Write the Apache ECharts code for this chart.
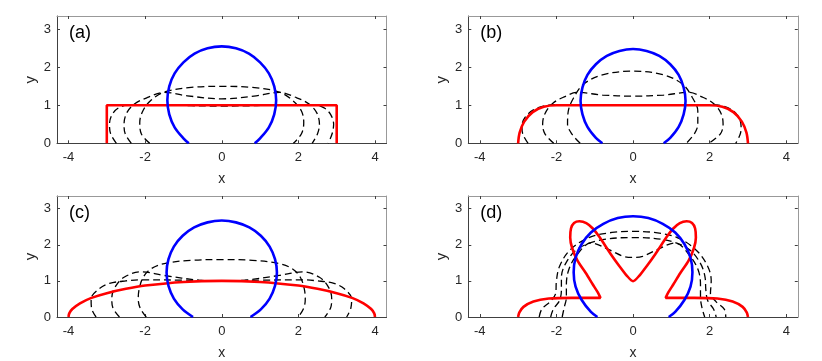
<!DOCTYPE html>
<html>
<head>
<meta charset="utf-8">
<script src="https://cdn.jsdelivr.net/npm/echarts@6/dist/echarts.min.js"></script>
<style>
  html, body { margin: 0; padding: 0; background: #fff; }
  #chart { width: 822px; height: 361px; }
</style>
</head>
<body>
<div id="chart"></div>
<script>
// tick labels and panel labels
var xTicks = [-4, -2, 0, 2, 4];
var yTicks = [0, 1, 2, 3];
var panelLabels = ['(a)', '(b)', '(c)', '(d)'];

// (a)
var redA = [[-3, 0], [-3, 1], [3, 1], [3, 0]];
var blueA = [[-0.86, 0], [-1.00, 0.13], [-1.23, 0.42], [-1.37, 0.76], [-1.42, 1.13], [-1.37, 1.50], [-1.23, 1.84], [-1.00, 2.13], [-0.71, 2.36], [-0.37, 2.50], [0, 2.55], [0.37, 2.50], [0.71, 2.36], [1.00, 2.13], [1.23, 1.84], [1.37, 1.50], [1.42, 1.13], [1.37, 0.76], [1.23, 0.42], [1.00, 0.13], [0.86, 0]];
var dashA1 = [[-2.75, 0], [-2.9, 0.25], [-2.93, 0.5], [-2.86, 0.76], [-2.68, 0.94], [-2.35, 1.02], [-1.6, 1.02], [-0.8, 0.99], [0, 0.98], [0.8, 0.99], [1.6, 1.02], [2.35, 1.02], [2.66, 0.94], [2.84, 0.76], [2.92, 0.5], [2.88, 0.25], [2.78, 0]];
var dashA2 = [[-2.36, 0], [-2.52, 0.25], [-2.55, 0.5], [-2.48, 0.8], [-2.27, 1.04], [-1.95, 1.2], [-1.5, 1.34], [-0.9, 1.25], [0, 1.17], [0.9, 1.25], [1.5, 1.34], [1.95, 1.2], [2.27, 1.04], [2.48, 0.8], [2.55, 0.5], [2.5, 0.25], [2.36, 0]];
var dashA3 = [[-1.88, 0], [-2.1, 0.25], [-2.14, 0.55], [-2.06, 0.85], [-1.86, 1.12], [-1.5, 1.35], [-0.8, 1.47], [0, 1.5], [0.8, 1.47], [1.5, 1.35], [1.86, 1.12], [2.08, 0.85], [2.14, 0.55], [2.08, 0.25], [1.87, 0]];

// (b)
var redB = [[-3, 0], [-2.96, 0.28], [-2.84, 0.57], [-2.62, 0.82], [-2.33, 0.96], [-2.0, 1.0], [-1.0, 1.0], [0, 1.0], [1.0, 1.0], [2.0, 1.0], [2.33, 0.96], [2.62, 0.82], [2.84, 0.57], [2.96, 0.28], [3, 0]];
var blueB = [[-0.80, 0], [-0.97, 0.14], [-1.19, 0.43], [-1.32, 0.76], [-1.37, 1.11], [-1.32, 1.47], [-1.19, 1.80], [-0.97, 2.08], [-0.685, 2.30], [-0.355, 2.43], [0, 2.48], [0.355, 2.43], [0.685, 2.30], [0.97, 2.08], [1.19, 1.80], [1.32, 1.47], [1.37, 1.11], [1.32, 0.76], [1.19, 0.43], [0.97, 0.14], [0.80, 0]];
var dashB1 = [[-2.74, 0], [-2.88, 0.25], [-2.9, 0.45], [-2.82, 0.68], [-2.6, 0.88], [-2.3, 0.99], [-2.0, 1.02], [-1.0, 1.02], [0, 1.02], [1.0, 1.02], [2.0, 1.02], [2.3, 0.99], [2.58, 0.88], [2.76, 0.68], [2.82, 0.45], [2.8, 0.25], [2.68, 0]];
var dashB2 = [[-2.07, 0], [-2.3, 0.25], [-2.36, 0.5], [-2.3, 0.78], [-2.1, 1.05], [-1.8, 1.22], [-1.45, 1.34], [-0.8, 1.27], [0, 1.24], [0.8, 1.27], [1.45, 1.34], [1.8, 1.22], [2.1, 1.05], [2.3, 0.78], [2.35, 0.5], [2.28, 0.25], [1.98, 0]];
var dashB3 = [[-1.38, 0], [-1.6, 0.25], [-1.71, 0.5], [-1.69, 0.85], [-1.55, 1.2], [-1.3, 1.55], [-0.8, 1.8], [0, 1.9], [0.8, 1.8], [1.3, 1.55], [1.55, 1.2], [1.69, 0.85], [1.69, 0.5], [1.6, 0.25], [1.39, 0]];

// (c)
var redC = [[-4, 0], [-3.98, 0.1], [-3.9, 0.22], [-3.7, 0.38], [-3.4, 0.53], [-3, 0.66], [-2.5, 0.78], [-2, 0.87], [-1, 0.97], [0, 1], [1, 0.97], [2, 0.87], [2.5, 0.78], [3, 0.66], [3.4, 0.53], [3.7, 0.38], [3.9, 0.22], [3.98, 0.1], [4, 0]];
var blueC = [[-0.75, 0], [-1.02, 0.21], [-1.25, 0.51], [-1.39, 0.86], [-1.44, 1.23], [-1.39, 1.60], [-1.25, 1.95], [-1.02, 2.25], [-0.72, 2.48], [-0.37, 2.62], [0, 2.67], [0.37, 2.62], [0.72, 2.48], [1.02, 2.25], [1.25, 1.95], [1.39, 1.60], [1.44, 1.23], [1.39, 0.86], [1.25, 0.51], [1.02, 0.21], [0.75, 0]];
var dashC1 = [[-3.28, 0], [-3.4, 0.25], [-3.41, 0.5], [-3.2, 0.78], [-2.93, 0.93], [-2.5, 1.0], [-2.1, 1.03], [-1.0, 1.02], [0, 1.0], [1.0, 1.02], [2.1, 1.03], [2.5, 1.0], [2.93, 0.93], [3.2, 0.78], [3.39, 0.5], [3.37, 0.25], [3.26, 0]];
var dashC2 = [[-2.67, 0], [-2.84, 0.25], [-2.87, 0.5], [-2.8, 0.8], [-2.55, 1.1], [-2.1, 1.25], [-1.5, 1.15], [-0.6, 1.02], [0, 1.0], [0.6, 1.02], [1.5, 1.15], [2.1, 1.25], [2.55, 1.1], [2.8, 0.8], [2.87, 0.5], [2.84, 0.25], [2.69, 0]];
var dashC3 = [[-1.97, 0], [-2.13, 0.25], [-2.18, 0.5], [-2.15, 0.8], [-2.05, 1.1], [-1.85, 1.33], [-1.5, 1.48], [-0.8, 1.57], [0, 1.59], [0.8, 1.57], [1.5, 1.48], [1.85, 1.33], [2.05, 1.1], [2.15, 0.8], [2.18, 0.5], [2.14, 0.25], [2.0, 0]];

// (d)
var redD = [[-3.0, 0], [-2.97, 0.12], [-2.86, 0.28], [-2.6, 0.43], [-2.2, 0.51], [-1.6, 0.53], [-1.1, 0.53], [-0.85, 0.53], [-0.92, 0.68], [-1.05, 0.9], [-1.23, 1.21], [-1.45, 1.56], [-1.59, 1.91], [-1.64, 2.2], [-1.62, 2.45], [-1.54, 2.6], [-1.4, 2.65], [-1.22, 2.6], [-1.05, 2.45], [-0.88, 2.22], [-0.58, 1.74], [-0.35, 1.4], [-0.16, 1.14], [0, 0.99], [0.16, 1.14], [0.35, 1.4], [0.58, 1.74], [0.88, 2.22], [1.05, 2.45], [1.22, 2.6], [1.4, 2.65], [1.54, 2.6], [1.62, 2.45], [1.64, 2.2], [1.59, 1.91], [1.45, 1.56], [1.23, 1.21], [1.05, 0.9], [0.92, 0.68], [0.85, 0.53], [1.1, 0.53], [1.6, 0.53], [2.2, 0.51], [2.6, 0.43], [2.86, 0.28], [2.97, 0.12], [3.0, 0]];
var blueD = [[-0.93, 0], [-1.10, 0.14], [-1.34, 0.47], [-1.50, 0.84], [-1.55, 1.24], [-1.50, 1.64], [-1.34, 2.02], [-1.10, 2.34], [-0.775, 2.58], [-0.40, 2.74], [0, 2.79], [0.40, 2.74], [0.775, 2.58], [1.10, 2.34], [1.34, 2.02], [1.50, 1.64], [1.55, 1.24], [1.50, 0.84], [1.34, 0.47], [1.10, 0.14], [0.93, 0]];
var dashD1 = [[-2.45, 0], [-2.38, 0.22], [-2.17, 0.42], [-2.02, 0.65], [-2.0, 1.0], [-1.92, 1.4], [-1.65, 1.85], [-1.15, 2.2], [-0.55, 2.34], [0, 2.37], [0.55, 2.34], [1.15, 2.2], [1.65, 1.85], [1.95, 1.4], [2.04, 1.0], [2.02, 0.65], [2.17, 0.42], [2.38, 0.22], [2.42, 0]];
var dashD2 = [[-2.15, 0], [-2.08, 0.22], [-1.92, 0.45], [-1.87, 0.75], [-1.87, 1.1], [-1.75, 1.5], [-1.45, 1.88], [-0.9, 2.12], [0, 2.2], [0.9, 2.12], [1.45, 1.88], [1.75, 1.5], [1.88, 1.1], [1.9, 0.75], [1.95, 0.45], [2.1, 0.22], [2.17, 0]];
var dashD3 = [[-1.85, 0], [-1.8, 0.25], [-1.74, 0.55], [-1.74, 0.9], [-1.68, 1.3], [-1.48, 1.7], [-1.1, 2.05], [-0.6, 1.85], [-0.25, 1.68], [0, 1.65], [0.25, 1.68], [0.6, 1.85], [1.1, 2.05], [1.48, 1.7], [1.7, 1.3], [1.76, 0.9], [1.76, 0.55], [1.8, 0.25], [1.87, 0]];

var panels = [
  { dashes: [dashA1, dashA2, dashA3], red: redA, redSmooth: false, blue: blueA },
  { dashes: [dashB1, dashB2, dashB3], red: redB, redSmooth: 0.3, blue: blueB },
  { dashes: [dashC1, dashC2, dashC3], red: redC, redSmooth: 0.3, blue: blueC },
  { dashes: [dashD1, dashD2, dashD3], red: redD, redSmooth: 0.25, blue: blueD }
];

var chart = echarts.init(document.getElementById('chart'));
var font = 'Liberation Sans, Arial, sans-serif';
var pos = [[57, 16], [468.3, 16], [57, 196], [468.3, 196]];
var W = 329.5, H = 127.3;

var grids = [], xAxes = [], yAxes = [], titles = [], series = [];

pos.forEach(function (p, i) {
  grids.push({ left: p[0], top: p[1], width: W, height: H, containLabel: false });
  titles.push({ text: panelLabels[i], left: p[0] + 7, top: p[1] + 3,
    textStyle: { fontFamily: font, fontSize: 18, fontWeight: 'normal', color: '#000' } });
});

function xAx(i, position, labels) {
  return {
    type: 'value', gridIndex: i, min: -4.3, max: 4.3, position: position,
    name: labels ? 'x' : '', nameLocation: 'middle', nameGap: 29,
    nameTextStyle: { fontFamily: font, fontSize: 14, color: '#262626' },
    axisLine: { show: true, onZero: false, lineStyle: { color: labels ? '#404040' : '#999', width: 1 } },
    axisTick: { show: true, inside: true, length: 3, customValues: xTicks, lineStyle: { color: '#404040' } },
    axisLabel: { show: labels, customValues: xTicks, fontFamily: font, fontSize: 13, color: '#262626', margin: 8 },
    splitLine: { show: false }
  };
}
function yAx(i, position, labels) {
  return {
    type: 'value', gridIndex: i, min: 0, max: 3.35, position: position,
    name: labels ? 'y' : '', nameLocation: 'middle', nameGap: 19, nameRotate: 90,
    nameTextStyle: { fontFamily: font, fontSize: 15, color: '#262626' },
    axisLine: { show: true, onZero: false, lineStyle: { color: labels ? '#404040' : '#999', width: 1 } },
    axisTick: { show: true, inside: true, length: 3, customValues: yTicks, lineStyle: { color: '#404040' } },
    axisLabel: { show: labels, customValues: yTicks, fontFamily: font, fontSize: 13, color: '#262626', margin: 6 },
    splitLine: { show: false }
  };
}

for (var i = 0; i < 4; i++) { xAxes.push(xAx(i, 'bottom', true)); yAxes.push(yAx(i, 'left', true)); }
for (var i = 0; i < 4; i++) { xAxes.push(xAx(i, 'top', false)); yAxes.push(yAx(i, 'right', false)); }

panels.forEach(function (pn, i) {
  pn.dashes.forEach(function (d) {
    series.push({ type: 'line', xAxisIndex: i, yAxisIndex: i, data: d, smooth: 0.35,
      symbol: 'none', lineStyle: { color: '#000', width: 1.3, type: [7, 4] }, z: 2 });
  });
  series.push({ type: 'line', xAxisIndex: i, yAxisIndex: i, data: pn.red, smooth: pn.redSmooth,
    symbol: 'none', lineStyle: { color: '#ff0000', width: 2.6 }, z: 3 });
  series.push({ type: 'line', xAxisIndex: i, yAxisIndex: i, data: pn.blue, smooth: 0.35,
    symbol: 'none', lineStyle: { color: '#0000ff', width: 2.6 }, z: 4 });
});

chart.setOption({
  animation: false,
  backgroundColor: '#fff',
  title: titles,
  grid: grids,
  xAxis: xAxes,
  yAxis: yAxes,
  series: series
});
</script>
</body>
</html>
